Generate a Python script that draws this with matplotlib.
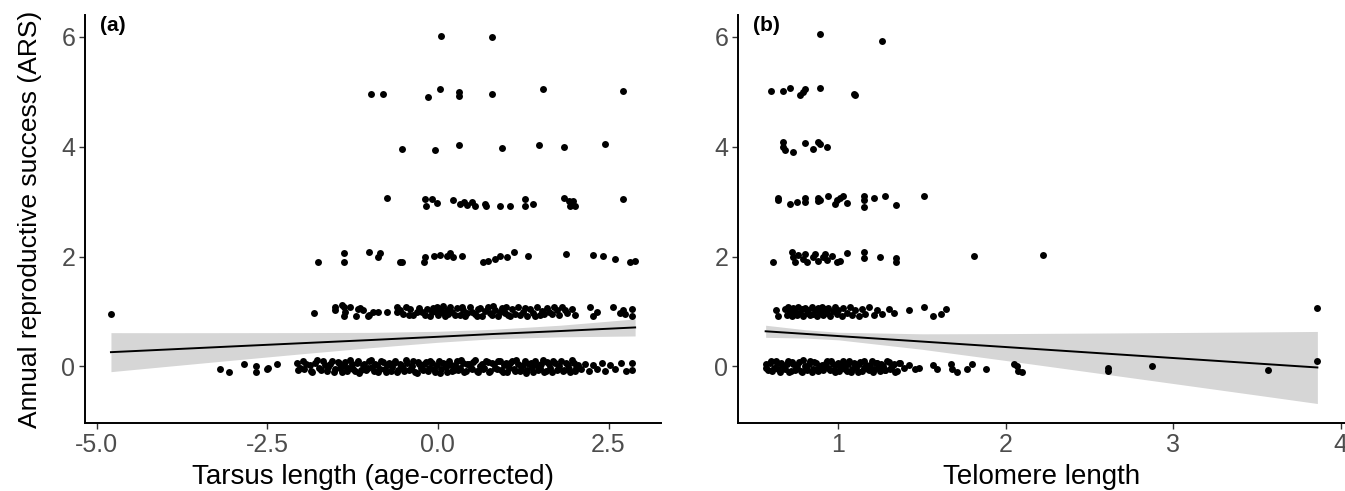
import numpy as np
import matplotlib
matplotlib.use("Agg")
import matplotlib.pyplot as plt

plt.rcParams['font.family'] = ['Liberation Sans', 'DejaVu Sans']

# ---- panel (a): tarsus length vs ARS, points as (x, jittered y)
tarsus_6 = [(0.04, 6.02), (0.79, 6.00)]
tarsus_5 = [(-0.98, 4.96), (-0.81, 4.96), (-0.15, 4.91), (0.03, 5.05), (0.31, 5.00),
            (0.31, 4.93), (0.79, 4.96), (1.54, 5.05), (2.71, 5.02)]
tarsus_4 = [(-0.53, 3.96), (-0.04, 3.94), (0.31, 4.03), (0.94, 3.98), (1.48, 4.03),
            (1.85, 4.00), (2.45, 4.05)]
tarsus_3 = [(-0.75, 3.07), (-0.19, 3.05), (-0.18, 2.93), (-0.09, 3.05), (-0.01, 2.97),
            (0.22, 3.03), (0.32, 2.95), (0.38, 3.00), (0.42, 2.94), (0.50, 3.00),
            (0.54, 2.93), (0.69, 2.96), (0.71, 2.93), (0.91, 2.92), (1.06, 2.93),
            (1.28, 3.05), (1.28, 2.93), (1.39, 2.95), (1.85, 3.07), (1.92, 3.02),
            (1.98, 3.02), (1.94, 2.93), (2.01, 2.92), (2.71, 3.05)]
tarsus_2 = [(-1.76, 1.90), (-1.38, 2.06), (-1.38, 1.90), (-1.01, 2.08), (-0.85, 2.06),
            (-0.87, 1.99), (-0.56, 1.90), (-0.53, 1.90), (-0.21, 1.90), (-0.19, 1.99),
            (-0.06, 2.01), (0.03, 2.03), (0.13, 2.01), (0.18, 2.06), (0.22, 1.99),
            (0.35, 2.01), (0.66, 1.90), (0.73, 1.92), (0.84, 1.95), (0.91, 2.01),
            (1.01, 1.99), (1.11, 2.08), (1.32, 2.01), (1.88, 2.04), (2.27, 2.03),
            (2.42, 2.01), (2.60, 1.95), (2.82, 1.90), (2.89, 1.92)]
tarsus_1 = [(-4.79, 0.95), (-1.82, 0.97), (-1.51, 1.08), (-1.51, 1.02), (-1.41, 1.11),
            (-1.38, 1.08), (-1.38, 0.91), (-1.36, 0.99), (-1.29, 1.09), (-1.20, 0.91),
            (-1.17, 1.04), (-1.14, 1.06), (-1.10, 1.02), (-1.03, 0.91), (-1.01, 0.93),
            (-0.95, 0.99), (-0.87, 0.99), (-0.75, 1.00), (-0.60, 1.09), (-0.60, 0.99),
            (-0.51, 0.95), (-0.43, 0.93), (-0.41, 1.05), (-0.31, 0.99), (-0.23, 1.00),
            (-0.16, 1.04), (-0.12, 0.92), (-0.09, 0.99), (-0.07, 1.07), (-0.01, 1.08),
            (0.00, 0.94), (0.06, 0.99), (0.07, 1.10), (0.10, 0.92), (0.13, 1.02),
            (0.15, 0.96), (0.21, 0.99), (0.28, 1.06), (0.32, 0.93), (0.37, 1.03),
            (0.43, 0.97), (0.47, 1.09), (0.54, 0.95), (0.59, 1.04), (0.65, 0.91),
            (0.69, 1.01), (0.73, 1.08), (0.79, 0.94), (0.84, 1.03), (0.88, 0.92),
            (0.94, 1.06), (0.98, 0.98), (1.03, 0.93), (1.09, 1.05), (1.13, 0.96),
            (1.17, 1.09), (1.25, 0.99), (1.30, 0.92), (1.35, 1.04), (1.39, 0.97),
            (1.45, 1.08), (1.50, 0.93), (1.52, 1.01), (1.60, 1.07), (1.67, 0.95),
            (1.74, 1.02), (1.82, 1.09), (1.89, 0.97), (1.96, 1.05), (2.01, 0.93),
            (2.23, 1.09), (2.27, 0.91), (2.33, 1.00), (2.57, 1.09), (2.67, 0.97),
            (2.71, 1.03), (2.74, 0.95), (2.84, 1.04), (2.84, 0.91),
            (-0.55, 1.03), (-0.47, 1.08), (-0.36, 0.94), (-0.27, 1.07), (-0.19, 0.93),
            (-0.04, 1.01), (0.03, 1.05), (0.18, 1.08), (0.25, 0.94), (0.35, 1.08),
            (0.40, 0.91), (0.50, 1.00), (0.57, 0.92), (0.62, 1.07), (0.76, 0.98),
            (0.81, 1.10), (0.91, 1.00), (1.00, 1.08), (1.06, 0.91), (1.20, 0.94),
            (1.27, 1.07), (1.42, 0.92), (1.55, 0.96), (1.63, 1.00), (1.70, 1.08),
            (1.78, 0.93), (1.86, 1.03)]
tarsus_0 = [(-3.19, -0.04), (-3.06, -0.11), (-2.84, 0.05), (-2.66, 0.00), (-2.66, -0.11),
            (-2.51, -0.05), (-2.49, -0.03), (-2.36, 0.04),
            (-2.07, 0.06), (-2.05, -0.07), (-1.98, 0.09), (-1.96, -0.04), (-1.88, 0.02),
            (-1.84, -0.10), (-1.80, 0.07), (-1.74, -0.02), (-1.68, 0.10), (-1.63, -0.08),
            (-1.58, 0.04), (-1.52, -0.11), (-1.47, 0.08), (-1.43, -0.03), (-1.38, 0.01),
            (-1.33, -0.09), (-1.29, 0.11), (-1.24, -0.05), (-1.19, 0.06), (-1.15, -0.12),
            (-1.10, 0.03), (-1.05, -0.06), (-1.01, 0.09), (-0.96, -0.01), (-0.92, 0.05),
            (-0.87, -0.10), (-0.83, 0.10), (-0.78, -0.04), (-0.74, 0.02), (-0.69, -0.08),
            (-0.65, 0.07), (-0.60, -0.11), (-0.56, 0.04), (-0.51, -0.03), (-0.47, 0.11),
            (-0.42, -0.07), (-0.38, 0.01), (-0.33, -0.10), (-0.29, 0.08), (-0.24, -0.02),
            (-0.20, 0.05), (-0.15, -0.09), (-0.11, 0.10), (-0.06, -0.05), (-0.02, 0.03),
            (0.03, -0.12), (0.07, 0.07), (0.12, -0.01), (0.16, 0.09), (0.21, -0.08),
            (0.25, 0.02), (0.30, -0.06), (0.34, 0.11), (0.39, -0.10), (0.43, 0.04),
            (0.48, -0.03), (0.52, 0.08), (0.57, -0.09), (0.61, 0.01), (0.66, -0.05),
            (0.70, 0.10), (0.75, -0.11), (0.79, 0.06), (0.84, -0.02), (0.88, 0.09),
            (0.93, -0.07), (0.97, 0.03), (1.02, -0.10), (1.06, 0.07), (1.11, -0.04),
            (1.15, 0.11), (1.20, -0.08), (1.24, 0.02), (1.29, -0.12), (1.33, 0.05),
            (1.38, -0.01), (1.42, 0.09), (1.47, -0.06), (1.51, 0.04), (1.56, -0.10),
            (1.60, 0.08), (1.65, -0.03), (1.69, 0.10), (1.74, -0.07), (1.78, 0.01),
            (1.83, -0.09), (1.87, 0.06), (1.92, -0.04), (1.96, 0.11), (2.01, -0.08),
            (2.05, 0.03), (2.10, -0.05),
            (-2.02, -0.02), (-1.93, 0.05), (-1.86, -0.08), (-1.77, 0.11), (-1.71, -0.06),
            (-1.66, 0.03), (-1.61, -0.01), (-1.55, 0.09), (-1.50, -0.05), (-1.45, 0.06),
            (-1.40, -0.10), (-1.36, 0.08), (-1.31, -0.03), (-1.26, 0.04), (-1.21, -0.09),
            (-1.17, 0.10), (-1.12, -0.07), (-1.08, 0.05), (-1.03, -0.02), (-0.98, 0.11),
            (-0.94, -0.08), (-0.89, 0.03), (-0.85, -0.05), (-0.80, 0.08), (-0.76, -0.11),
            (-0.72, 0.06), (-0.67, -0.01), (-0.63, 0.09), (-0.58, -0.06), (-0.54, 0.02),
            (-0.49, -0.09), (-0.45, 0.07), (-0.40, -0.04), (-0.36, 0.10), (-0.31, -0.12),
            (-0.27, 0.04), (-0.22, -0.07), (-0.18, 0.08), (-0.13, -0.02), (-0.09, 0.06),
            (-0.04, -0.10), (0.01, 0.09), (0.05, -0.04), (0.10, 0.05), (0.14, -0.11),
            (0.19, 0.03), (0.23, -0.07), (0.28, 0.10), (0.32, -0.02), (0.37, 0.07),
            (0.41, -0.09), (0.46, 0.05), (0.50, -0.05), (0.55, 0.11), (0.59, -0.11),
            (0.64, 0.04), (0.68, -0.03), (0.73, 0.08), (0.77, -0.08), (0.82, 0.05),
            (0.86, -0.05), (0.91, 0.10), (0.95, -0.11), (1.00, 0.06), (1.04, -0.02),
            (1.09, 0.09), (1.13, -0.09), (1.18, 0.04), (1.22, -0.05), (1.27, 0.10),
            (1.31, -0.07), (1.36, 0.07), (1.40, -0.10), (1.45, 0.03), (1.49, -0.03),
            (1.54, 0.11), (1.58, -0.08), (1.63, 0.05), (1.67, -0.11), (1.72, 0.07),
            (1.76, -0.04), (1.81, 0.09), (1.85, -0.06), (1.90, 0.03), (1.94, -0.10),
            (1.99, 0.06), (2.03, -0.02),
            (2.16, 0.05), (2.21, -0.08), (2.27, 0.02), (2.33, -0.05), (2.40, 0.07),
            (2.45, -0.09), (2.52, 0.03), (2.60, -0.04), (2.68, 0.06), (2.75, -0.08),
            (2.84, 0.07), (2.84, -0.06)]

# fitted line and 95% band (read at a few x positions)
tarsus_fit_x = [-4.79, -4.0, -3.0, -2.0, -1.0, 0.0, 0.8, 1.8, 2.89]
tarsus_fit_y = [0.26, 0.306, 0.365, 0.423, 0.48, 0.54, 0.59, 0.645, 0.71]
tarsus_lo = [-0.095, -0.002, 0.115, 0.23, 0.34, 0.44, 0.504, 0.539, 0.555]
tarsus_hi = [0.615, 0.614, 0.615, 0.616, 0.62, 0.64, 0.676, 0.751, 0.865]

# ---- panel (b): telomere length vs ARS
telo_6 = [(0.89, 6.06), (1.26, 5.93)]
telo_5 = [(0.60, 5.02), (0.67, 5.02), (0.71, 5.07), (0.77, 4.95), (0.79, 5.00),
          (0.80, 5.05), (0.89, 5.07), (1.09, 4.96), (1.10, 4.95)]
telo_4 = [(0.67, 4.09), (0.67, 4.00), (0.68, 3.94), (0.73, 3.91), (0.80, 4.07),
          (0.85, 3.96), (0.875, 4.09), (0.89, 4.05), (0.93, 4.00)]
telo_3 = [(0.64, 3.07), (0.64, 3.03), (0.71, 2.96), (0.75, 2.99), (0.80, 3.07),
          (0.80, 2.99), (0.875, 3.07), (0.875, 3.01), (0.89, 3.03), (0.94, 3.10),
          (0.98, 2.96), (0.99, 3.03), (1.01, 3.07), (1.03, 3.10), (1.05, 2.97),
          (1.15, 3.10), (1.15, 3.03), (1.15, 2.90), (1.21, 3.07), (1.28, 3.10),
          (1.345, 2.94), (1.51, 3.10)]
telo_2 = [(0.61, 1.90), (0.72, 2.08), (0.73, 1.99), (0.74, 1.90), (0.76, 2.03),
          (0.79, 1.95), (0.80, 2.04), (0.815, 1.90), (0.845, 1.99), (0.86, 2.04),
          (0.875, 1.92), (0.905, 1.99), (0.92, 2.04), (0.93, 1.93), (0.96, 2.01),
          (0.99, 1.90), (1.01, 1.92), (1.05, 2.06), (1.15, 2.08), (1.15, 1.97),
          (1.25, 1.99), (1.345, 1.97), (1.345, 1.90), (1.81, 2.01), (2.22, 2.03)]
telo_1 = [(0.625, 1.02), (0.64, 0.91), (0.68, 1.05), (0.69, 0.94), (0.70, 1.08),
          (0.71, 0.99), (0.72, 0.92), (0.73, 1.06), (0.74, 1.00), (0.75, 0.93),
          (0.76, 1.09), (0.77, 0.97), (0.78, 1.04), (0.79, 0.91), (0.80, 1.07),
          (0.81, 0.98), (0.82, 1.02), (0.83, 0.94), (0.84, 1.08), (0.85, 0.96),
          (0.86, 1.03), (0.87, 0.92), (0.88, 1.06), (0.89, 0.99), (0.90, 1.09),
          (0.91, 0.93), (0.92, 1.04), (0.93, 0.97), (0.94, 1.07), (0.95, 0.91),
          (0.97, 1.01), (0.98, 1.08), (0.99, 0.95), (1.00, 1.03), (1.02, 0.92),
          (1.03, 1.06), (1.05, 0.98), (1.07, 1.09), (1.08, 0.94), (1.10, 1.02),
          (1.12, 0.91), (1.14, 1.05), (1.16, 0.96), (1.18, 1.08), (1.21, 0.93),
          (1.23, 1.02), (1.26, 0.95), (1.30, 1.04), (1.33, 0.97), (1.42, 1.02),
          (1.51, 1.08), (1.565, 0.91), (1.61, 0.95), (1.64, 1.04), (3.86, 1.06)]
telo_0 = [(0.565, 0.04), (0.58, -0.07), (0.60, 0.09), (0.615, -0.02), (0.63, 0.06),
          (0.65, -0.10), (0.665, 0.02), (0.68, -0.05), (0.70, 0.10), (0.715, -0.08),
          (0.73, 0.05), (0.75, -0.03), (0.765, 0.08), (0.78, -0.11), (0.80, 0.01),
          (0.815, -0.06), (0.83, 0.09), (0.85, -0.04), (0.865, 0.06), (0.88, -0.09),
          (0.90, 0.03), (0.915, -0.01), (0.93, 0.10), (0.95, -0.07), (0.965, 0.04),
          (0.98, -0.10), (1.00, 0.07), (1.015, -0.03), (1.03, 0.02), (1.05, -0.08),
          (1.065, 0.09), (1.08, -0.05), (1.10, 0.05), (1.115, -0.11), (1.13, 0.08),
          (1.15, -0.02), (1.165, 0.03), (1.18, -0.07), (1.20, 0.10), (1.215, -0.04),
          (1.23, 0.06), (1.25, -0.09), (1.265, 0.01), (1.28, -0.06), (1.30, 0.08),
          (1.315, -0.03), (1.33, 0.04), (1.35, -0.08), (1.37, 0.06), (1.39, -0.02),
          (1.42, 0.03), (1.46, -0.05),
          (0.57, -0.03), (0.59, 0.06), (0.605, -0.09), (0.625, 0.10), (0.64, -0.05),
          (0.655, 0.07), (0.675, -0.01), (0.69, 0.04), (0.705, -0.11), (0.725, 0.08),
          (0.74, -0.06), (0.755, 0.02), (0.775, -0.08), (0.79, 0.11), (0.805, -0.03),
          (0.825, 0.05), (0.84, -0.10), (0.855, 0.08), (0.875, -0.04), (0.89, 0.01),
          (0.905, -0.07), (0.925, 0.06), (0.94, -0.02), (0.955, 0.09), (0.975, -0.06),
          (0.99, 0.03), (1.005, -0.09), (1.025, 0.10), (1.04, -0.04), (1.055, 0.05),
          (1.075, -0.11), (1.09, 0.07), (1.105, -0.02), (1.125, 0.04), (1.14, -0.08),
          (1.155, 0.09), (1.175, -0.05), (1.19, 0.02), (1.205, -0.10), (1.225, 0.07),
          (1.24, -0.03), (1.255, 0.05), (1.275, -0.07), (1.29, 0.10), (1.305, -0.05),
          (1.325, 0.02), (1.34, -0.10), (1.36, 0.07),
          (1.48, -0.02), (1.565, 0.02), (1.59, -0.05), (1.67, 0.05), (1.68, -0.05),
          (1.71, -0.11), (1.77, -0.05), (1.80, 0.04), (1.88, -0.04), (2.05, 0.04),
          (2.065, 0.00), (2.07, -0.09), (2.095, -0.11), (2.61, -0.02), (2.61, -0.09),
          (2.875, 0.00), (3.565, -0.07), (3.86, 0.09)]

telo_fit_x = [0.565, 0.8, 1.0, 1.5, 2.0, 2.5, 3.0, 3.5, 3.86]
telo_fit_y = [0.64, 0.593, 0.553, 0.453, 0.353, 0.253, 0.153, 0.053, -0.019]
telo_lo = [0.53, 0.517, 0.484, 0.312, 0.108, -0.101, -0.311, -0.522, -0.675]
telo_hi = [0.75, 0.669, 0.622, 0.594, 0.598, 0.607, 0.617, 0.628, 0.637]

TICK_GREY = '#4D4D4D'


def draw_panel(ax, levels, fit_x, fit_y, lo, hi):
    ax.fill_between(fit_x, lo, hi, color='#d6d6d6', linewidth=0, zorder=1)
    for pts in levels:
        arr = np.array(pts)
        ax.scatter(arr[:, 0], arr[:, 1], s=25, color='black', linewidths=0, zorder=2)
    ax.plot(fit_x, fit_y, color='black', linewidth=1.4, zorder=3)
    ax.set_ylim(-1.03, 6.40)
    ax.set_yticks([0, 2, 4, 6])
    for side in ['top', 'right']:
        ax.spines[side].set_visible(False)
    for side in ['left', 'bottom']:
        ax.spines[side].set_linewidth(1.4)
    ax.tick_params(axis='both', labelsize=18, labelcolor=TICK_GREY, color='#333333',
                   length=4, width=1.0, pad=3)


fig = plt.figure(figsize=(13.45, 4.91), dpi=100)
ax_a = fig.add_axes([0.0632, 0.1385, 0.4283, 0.831])
ax_b = fig.add_axes([0.5487, 0.1385, 0.4513, 0.831])

draw_panel(ax_a, [tarsus_0, tarsus_1, tarsus_2, tarsus_3, tarsus_4, tarsus_5, tarsus_6],
           tarsus_fit_x, tarsus_fit_y, tarsus_lo, tarsus_hi)
ax_a.set_xlim(-5.17, 3.27)
ax_a.set_xticks([-5.0, -2.5, 0.0, 2.5])
ax_a.set_xticklabels(['-5.0', '-2.5', '0.0', '2.5'])
ax_a.set_xlabel('Tarsus length (age-corrected)', fontsize=20, labelpad=5)
ax_a.set_ylabel('Annual reproductive success (ARS)', fontsize=19, labelpad=14)
ax_a.text(0.026, 0.975, '(a)', transform=ax_a.transAxes, fontsize=15,
          fontweight='bold', va='center', ha='left')

draw_panel(ax_b, [telo_0, telo_1, telo_2, telo_3, telo_4, telo_5, telo_6],
           telo_fit_x, telo_fit_y, telo_lo, telo_hi)
ax_b.set_xlim(0.40, 4.025)
ax_b.set_xticks([1, 2, 3, 4])
ax_b.set_xlabel('Telomere length', fontsize=20, labelpad=5)
ax_b.text(0.025, 0.975, '(b)', transform=ax_b.transAxes, fontsize=15,
          fontweight='bold', va='center', ha='left')

fig.savefig('out.png', dpi=100)
